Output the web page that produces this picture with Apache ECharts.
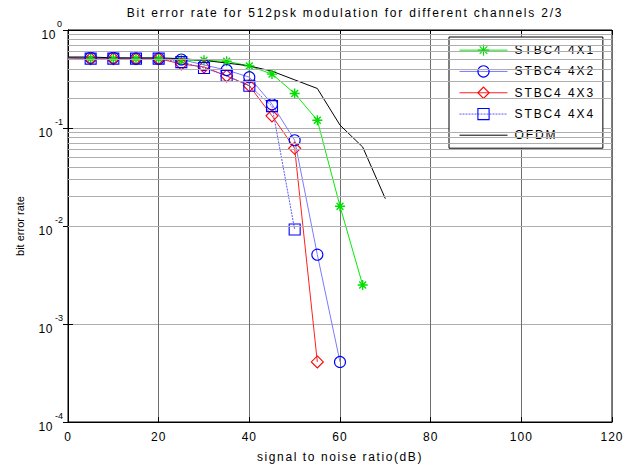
<!DOCTYPE html>
<html><head><meta charset="utf-8">
<script src="https://cdn.jsdelivr.net/npm/echarts@6/dist/echarts.min.js"></script>
<style>html,body{margin:0;padding:0;background:#fff}#c{width:641px;height:468px}</style>
</head><body><div id="c"></div>
<script>
// ---- data ----
const titleText = 'Bit error rate for 512psk modulation for different channels 2/3';
const xName = 'signal to noise ratio(dB)';
const yName = 'bit error rate';
const seriesNames = ['STBC4 4X1', 'STBC4 4X2', 'STBC4 4X3', 'STBC4 4X4', 'OFDM'];
const snrMarked = [5, 10, 15, 20, 25, 30, 35, 40, 45, 50, 55, 60, 65];
const startSnr = 0;
const startBer = [0.52, 0.52, 0.52, 0.52];
const ber4x1 = [0.51, 0.51, 0.51, 0.51, 0.49, 0.49, 0.48, 0.43, 0.355, 0.225, 0.12, 0.0159, 0.0025];
const ber4x2 = [0.52, 0.52, 0.51, 0.51, 0.50, 0.44, 0.39, 0.33, 0.175, 0.075, 0.0051, 0.00041];
const ber4x3 = [0.51, 0.51, 0.51, 0.51, 0.45, 0.42, 0.34, 0.27, 0.133, 0.062, 0.00041];
const ber4x4 = [0.51, 0.51, 0.51, 0.51, 0.47, 0.41, 0.34, 0.27, 0.167, 0.0092];
const snrOfdm = [0, 5, 10, 15, 20, 25, 30, 35, 40, 45, 50, 55, 60, 65, 70];
const berOfdm = [0.53, 0.53, 0.52, 0.52, 0.52, 0.51, 0.49, 0.46, 0.43, 0.38, 0.31, 0.253, 0.107, 0.064, 0.019];
const xTicks = [0, 20, 40, 60, 80, 100, 120];
const yDecades = [1e-4, 1e-3, 1e-2, 1e-1, 1];
const minorMultipliers = [2, 3, 4, 5, 6, 7, 8, 9];

// ---- build ----
const FONT = "'Liberation Sans', Arial, sans-serif";
function marked(ys, start) {
  const d = [{ value: [startSnr, start], symbol: 'none' }];
  ys.forEach((v, i) => d.push([snrMarked[i], v]));
  return d;
}
const minorLines = [];
yDecades.slice(0, -1).forEach(dec => minorMultipliers.forEach(m => minorLines.push({ yAxis: dec * m })));

const star = 'path://M5,0L5,10M0,5L10,5M1.6,1.6L8.4,8.4M1.6,8.4L8.4,1.6';
const diamond = 'path://M5,0L10,5L5,10L0,5Z';

const chart = echarts.init(document.getElementById('c'), null, { renderer: 'svg' });
chart.setOption({
  backgroundColor: '#fff',
  animation: false,
  textStyle: { fontFamily: FONT },
  title: {
    text: titleText, left: 340, top: 2, textAlign: 'center',
    textStyle: { fontFamily: FONT, fontSize: 12, fontWeight: 'normal', color: '#000' }
  },
  grid: { left: 68, right: 29, top: 30, bottom: 45, show: true, borderColor: '#000', borderWidth: 1, backgroundColor: '#fff' },
  legend: {
    orient: 'vertical', left: 449, top: 37,
    padding: [7, 25, 7, 10], itemGap: 9, itemWidth: 48, itemHeight: 14,
    backgroundColor: '#fff', borderColor: '#000', borderWidth: 1,
    itemStyle: { borderWidth: 1.1 },
    lineStyle: { width: 1 },
    textStyle: { fontFamily: FONT, fontSize: 12, color: '#000', padding: [0, 0, 0, 2] },
    data: seriesNames.map((n, i) => i === 4
      ? { name: n, itemStyle: { color: 'transparent', borderColor: 'transparent', borderWidth: 0 } }
      : n)
  },
  xAxis: [{
    type: 'value', min: xTicks[0], max: xTicks[xTicks.length - 1], interval: 20,
    name: xName, nameLocation: 'middle', nameGap: 29,
    nameTextStyle: { fontFamily: FONT, fontSize: 12, color: '#000' },
    axisLine: { show: true, lineStyle: { color: '#000' } },
    axisTick: { show: true, inside: true, length: 5, lineStyle: { color: '#000' } },
    axisLabel: { margin: 9, fontSize: 12, color: '#000', fontFamily: FONT },
    splitLine: { show: true, lineStyle: { color: '#6e6e6e', width: 1 } }
  }, {
    type: 'value', position: 'top', min: xTicks[0], max: xTicks[xTicks.length - 1], interval: 20,
    axisLine: { show: true, lineStyle: { color: '#000' } },
    axisTick: { show: true, inside: true, length: 5, lineStyle: { color: '#000' } },
    axisLabel: { show: false }, splitLine: { show: false }
  }],
  yAxis: [{
    type: 'log', logBase: 10, min: yDecades[0], max: yDecades[yDecades.length - 1],
    name: yName, nameLocation: 'middle', nameGap: 43,
    nameTextStyle: { fontFamily: FONT, fontSize: 11, color: '#000' },
    axisLine: { show: true, lineStyle: { color: '#000' } },
    axisTick: { show: true, inside: true, length: 5, lineStyle: { color: '#000' } },
    axisLabel: {
      margin: 5, color: '#000',
      formatter: v => '{b|10}{e|' + Math.round(Math.log10(v)) + '}',
      rich: {
        b: { fontSize: 12, fontFamily: FONT, color: '#000', padding: [10, 0, 0, 0] },
        e: { fontSize: 9, fontFamily: FONT, color: '#000', padding: [0, 0, 12, 2] }
      }
    },
    splitLine: { show: true, lineStyle: { color: '#aeaeae', width: 1 } }
  }, {
    type: 'log', logBase: 10, position: 'right', min: yDecades[0], max: yDecades[yDecades.length - 1],
    axisLine: { show: true, lineStyle: { color: '#000' } },
    axisTick: { show: true, inside: true, length: 5, lineStyle: { color: '#000' } },
    axisLabel: { show: false }, splitLine: { show: false }
  }],
  series: [
    {
      name: 'grid-minor', type: 'line', data: [], z: 1, silent: true,
      markLine: { silent: true, symbol: 'none', label: { show: false },
        lineStyle: { color: '#aeaeae', width: 1, type: 'solid' }, data: minorLines, animation: false }
    },
    {
      name: seriesNames[0], type: 'line', z: 3, data: marked(ber4x1, startBer[0]),
      symbol: star, symbolSize: 10, showAllSymbol: true,
      lineStyle: { color: '#00ee00', width: 1 },
      itemStyle: { color: 'transparent', borderColor: '#00e000', borderWidth: 1.4 }
    },
    {
      name: seriesNames[1], type: 'line', z: 3, data: marked(ber4x2, startBer[1]),
      symbol: 'circle', symbolSize: 11, showAllSymbol: true,
      lineStyle: { color: '#7a7aff', width: 1 },
      itemStyle: { color: 'transparent', borderColor: '#0000ff', borderWidth: 1.1 }
    },
    {
      name: seriesNames[2], type: 'line', z: 3, data: marked(ber4x3, startBer[2]),
      symbol: diamond, symbolSize: 12, showAllSymbol: true,
      lineStyle: { color: '#ff2020', width: 1 },
      itemStyle: { color: 'transparent', borderColor: '#ff0000', borderWidth: 1.1 }
    },
    {
      name: seriesNames[3], type: 'line', z: 3, data: marked(ber4x4, startBer[3]),
      symbol: 'rect', symbolSize: 11, showAllSymbol: true,
      lineStyle: { color: '#5a5aff', width: 1, type: [2, 1] },
      itemStyle: { color: 'transparent', borderColor: '#0000ff', borderWidth: 1.1 }
    },
    {
      name: seriesNames[4], type: 'line', z: 3, data: snrOfdm.map((x, i) => [x, berOfdm[i]]),
      symbol: 'none', lineStyle: { color: '#000', width: 1 }, itemStyle: { color: '#000' }
    }
  ]
});

// The reference's horizontal text is drawn wide; imitate with letter spacing.
const tickTexts = new Set(xTicks.map(String));
function applySpacing() {
  document.querySelectorAll('#c svg text').forEach(t => {
    const s = t.textContent;
    let ls = 0;
    if (s === titleText) ls = 1.8;
    else if (s === xName) ls = 1.6;
    else if (seriesNames.includes(s)) ls = 1.9;
    else if (tickTexts.has(s)) ls = 1;
    else if (s === '10') ls = 0.6;
    if (ls) t.style.letterSpacing = ls + 'px';
  });
}
chart.on('finished', applySpacing);
setTimeout(applySpacing, 50);
setTimeout(applySpacing, 300);
</script></body></html>
